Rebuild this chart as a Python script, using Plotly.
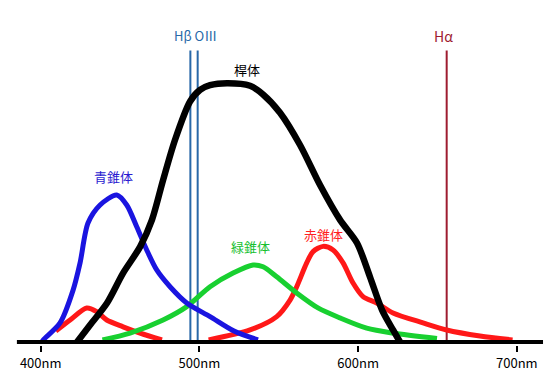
import plotly.graph_objects as go

FONT = "Noto Sans CJK JP"

# Rod (桿体) sensitivity
rod_nm = [422.9, 431.1, 441.8, 451.9, 462.6, 470.1, 477.1, 484.6, 494.1, 500.4, 506.7, 517.4, 531.9,
          540.1, 550.8, 563.4, 576.0, 588.6, 599.3, 607.5, 615.1, 622.0, 626.4]
rod_val = [0.0, 0.065, 0.149, 0.263, 0.363, 0.466, 0.618, 0.771, 0.918, 0.962, 0.980, 0.988, 0.978,
           0.945, 0.875, 0.752, 0.599, 0.466, 0.378, 0.248, 0.122, 0.046, 0.0]

# Blue cone (青錐体)
blue_nm = [400.8, 401.6, 412.2, 420.4, 424.8, 429.8, 437.4, 447.9, 454.2, 460.5, 466.8, 473.1, 481.5,
           492.0, 506.7, 521.8, 536.9]
blue_val = [0.0, 0.008, 0.073, 0.198, 0.302, 0.454, 0.523, 0.561, 0.523, 0.440, 0.351, 0.275, 0.211,
            0.149, 0.097, 0.042, 0.008]

# Green cone (緑錐体)
green_nm = [438.9, 456.3, 477.1, 492.0, 506.7, 521.2, 533.8, 540.1, 548.7, 561.3, 574.7, 588.6, 605.4,
            622.0, 649.7]
green_val = [0.008, 0.034, 0.084, 0.135, 0.211, 0.263, 0.294, 0.287, 0.249, 0.187, 0.130, 0.092, 0.053,
             0.034, 0.013]

# Red cone (赤錐体): short-wave bump and main lobe
red_bump_nm = [409.5, 418.5, 429.0, 435.3, 441.6, 451.9, 462.6, 476.4]
red_bump_val = [0.042, 0.084, 0.130, 0.116, 0.084, 0.058, 0.034, 0.008]
red_nm = [505.8, 531.9, 548.7, 557.1, 561.3, 567.6, 571.6, 577.9, 584.2, 590.5, 596.8, 603.1, 611.7,
          622.0, 640.9, 655.8, 676.8, 697.3]
red_val = [0.008, 0.046, 0.097, 0.160, 0.211, 0.302, 0.345, 0.365, 0.351, 0.302, 0.225, 0.173, 0.149,
           0.111, 0.073, 0.046, 0.023, 0.008]

# Emission lines
hb_oiii_nm = [494.3, 498.9]
ha_nm = [655.8]
line_top = 1.113

tick_vals = [400, 500, 600, 700]
tick_text = ["400nm", "500nm", "600nm", "700nm"]

fig = go.Figure()

for x in hb_oiii_nm:
    fig.add_trace(go.Scatter(x=[x, x], y=[0, line_top], mode="lines",
                             line=dict(color="#2868a8", width=2), hoverinfo="skip"))
for x in ha_nm:
    fig.add_trace(go.Scatter(x=[x, x], y=[0, line_top], mode="lines",
                             line=dict(color="#9e1c30", width=2), hoverinfo="skip"))

SM = 0.8
fig.add_trace(go.Scatter(x=red_bump_nm, y=red_bump_val, mode="lines",
                         line=dict(color="#ff1818", width=5, shape="spline", smoothing=SM)))
fig.add_trace(go.Scatter(x=red_nm, y=red_val, mode="lines",
                         line=dict(color="#ff1818", width=5, shape="spline", smoothing=SM)))
fig.add_trace(go.Scatter(x=green_nm, y=green_val, mode="lines",
                         line=dict(color="#18d030", width=5, shape="spline", smoothing=SM)))
fig.add_trace(go.Scatter(x=blue_nm, y=blue_val, mode="lines",
                         line=dict(color="#1a14e0", width=5, shape="spline", smoothing=SM)))
fig.add_trace(go.Scatter(x=rod_nm, y=rod_val, mode="lines",
                         line=dict(color="#000000", width=6.5, shape="spline", smoothing=SM)))

# baseline axis
fig.add_shape(type="line", xref="x", yref="y", x0=385, x1=716.5, y0=0, y1=0,
              line=dict(color="black", width=4))

annos = [
    ("桿体", 529.8, 1.040, "#000000", 13),
    ("青錐体", 445.6, 0.630, "#2a1ad0", 13),
    ("緑錐体", 531.9, 0.363, "#18c030", 13),
    ("赤錐体", 577.9, 0.412, "#ff2020", 13),
    ("Hβ OⅢ", 497.3, 1.168, "#2868a8", 13),
    ("Hα", 654.1, 1.168, "#9e1c30", 14),
]
for t, x, y, c, s in annos:
    fig.add_annotation(x=x, y=y, text=t, showarrow=False,
                       font=dict(family=FONT, size=s, color=c),
                       xanchor="center", yanchor="middle")

fig.update_layout(
    width=560, height=375,
    margin=dict(l=0, r=0, t=0, b=30),
    paper_bgcolor="white", plot_bgcolor="white",
    showlegend=False,
    xaxis=dict(range=[374.35, 727.2], showgrid=False, zeroline=False, showline=False,
               tickvals=tick_vals, ticktext=tick_text, ticks="outside", ticklen=6,
               tickwidth=2, tickcolor="black",
               tickfont=dict(family=FONT, size=13, color="black")),
    yaxis=dict(range=[-0.01145, 1.3053], visible=False),
)

fig.write_html("out.html",
               config={"displayModeBar": False},
               post_script="document.body.style.margin='0';document.body.style.overflow='hidden';")
